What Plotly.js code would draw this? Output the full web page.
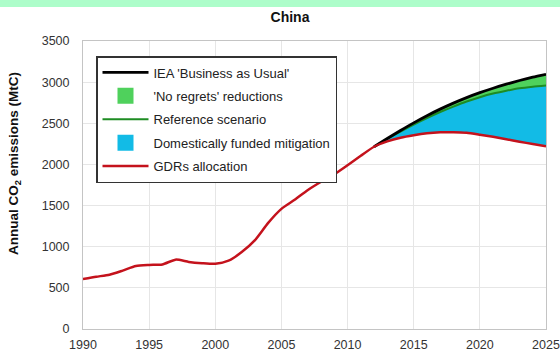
<!DOCTYPE html>
<html>
<head>
<meta charset="utf-8">
<script src="https://cdn.plot.ly/plotly-3.0.1.min.js"></script>
<style>
  html, body { margin: 0; padding: 0; background: #ffffff; }
  #chart { width: 560px; height: 356px; }
</style>
</head>
<body>
<div id="chart"></div>
<script>
// Historical emissions, 1990-2012 (MtC)
const histYears = [1990, 1991, 1992, 1993, 1994, 1995, 1996, 1997, 1998, 1999, 2000, 2001,
                   2002, 2003, 2004, 2005, 2006, 2007, 2008, 2009, 2010, 2011, 2012];
const histEmissions = [606, 635, 660, 710, 765, 778, 785, 843, 815, 800, 793, 830,
                       935, 1080, 1290, 1460, 1570, 1690, 1790, 1880, 1990, 2105, 2215];

// Projections, 2012-2025 (MtC)
const projYears = [2012, 2013, 2014, 2015, 2016, 2017, 2018, 2019, 2020, 2021, 2022, 2023, 2024, 2025];
const bau       = [2215, 2315, 2412, 2505, 2592, 2672, 2745, 2812, 2872, 2926, 2975, 3020, 3060, 3095];
const reference = [2215, 2310, 2400, 2485, 2564, 2637, 2703, 2764, 2817, 2861, 2895, 2925, 2945, 2960];
const gdrs      = [2215, 2280, 2325, 2355, 2378, 2390, 2392, 2385, 2362, 2336, 2306, 2276, 2248, 2220];

// Legend labels
const labels = ["IEA 'Business as Usual'", "'No regrets' reductions", "Reference scenario",
                "Domestically funded mitigation", "GDRs allocation"];

const colors = {
  bau: '#000000',
  noRegrets: '#4fd15c',
  reference: '#1e8c23',
  domestic: '#12bbe6',
  gdrs: '#c4121c'
};

const gdrFull = {
  x: histYears.concat(projYears.slice(1)),
  y: histEmissions.concat(gdrs.slice(1))
};

const smooth = { shape: 'spline', smoothing: 0.6 };

const traces = [
  // base of the mitigation band
  { x: projYears, y: gdrs, mode: 'lines', line: Object.assign({ width: 0 }, smooth),
    showlegend: false, hoverinfo: 'skip' },
  // domestically funded mitigation: GDRs -> reference
  { x: projYears, y: reference, mode: 'lines', line: Object.assign({ width: 0 }, smooth),
    fill: 'tonexty', fillcolor: colors.domestic, showlegend: false, hoverinfo: 'skip' },
  // no-regrets reductions: reference -> BAU
  { x: projYears, y: bau, mode: 'lines', line: Object.assign({ width: 0 }, smooth),
    fill: 'tonexty', fillcolor: colors.noRegrets, showlegend: false, hoverinfo: 'skip' },
  // lines
  { x: projYears, y: reference, mode: 'lines', name: labels[2], legendrank: 3, legendgroup: 'c',
    line: Object.assign({ width: 2, color: colors.reference }, smooth) },
  { x: projYears, y: bau, mode: 'lines', name: labels[0], legendrank: 1, legendgroup: 'a',
    line: Object.assign({ width: 2.8, color: colors.bau }, smooth) },
  { x: gdrFull.x, y: gdrFull.y, mode: 'lines', name: labels[4], legendrank: 5, legendgroup: 'e',
    line: Object.assign({ width: 2.5, color: colors.gdrs }, smooth) },
  // legend swatches for the filled bands
  { x: [null], y: [null], mode: 'markers', name: labels[1], legendrank: 2, legendgroup: 'b',
    marker: { symbol: 'square', size: 16, color: colors.noRegrets } },
  { x: [null], y: [null], mode: 'markers', name: labels[3], legendrank: 4, legendgroup: 'd',
    marker: { symbol: 'square', size: 16, color: colors.domestic } }
];

const font = { family: 'Liberation Sans, Arial, sans-serif', color: '#333333' };

const layout = {
  width: 560,
  height: 356,
  margin: { l: 83, r: 14, t: 41, b: 27 },
  paper_bgcolor: '#ffffff',
  plot_bgcolor: '#ffffff',
  font: Object.assign({ size: 12.5 }, font),
  title: {
    text: '<b>China</b>',
    font: { family: font.family, size: 14, color: '#111111' },
    x: 290 / 560, xref: 'container', xanchor: 'center',
    y: 1 - 17 / 356, yref: 'container', yanchor: 'middle'
  },
  xaxis: {
    range: [1990, 2025],
    dtick: 5,
    tick0: 1990,
    showgrid: true,
    gridcolor: '#e6e6e6',
    gridwidth: 1,
    showline: true,
    mirror: true,
    linecolor: '#c4c4c4',
    linewidth: 1,
    zeroline: false,
    ticks: '',
    ticklabelstandoff: 4,
    tickfont: { size: 12.5, color: '#333333', family: font.family }
  },
  yaxis: {
    range: [0, 3500],
    dtick: 500,
    showgrid: true,
    gridcolor: '#e6e6e6',
    gridwidth: 1,
    showline: true,
    mirror: true,
    linecolor: '#c4c4c4',
    linewidth: 1,
    zeroline: false,
    ticks: '',
    ticklabelstandoff: 10,
    tickfont: { size: 12.5, color: '#333333', family: font.family }
  },
  legend: {
    x: (96 - 83) / 463,
    y: 1 - (56 - 41) / 288,
    xanchor: 'left',
    yanchor: 'top',
    bgcolor: '#ffffff',
    bordercolor: '#333333',
    borderwidth: 1.5,
    traceorder: 'grouped',
    tracegroupgap: 3.5,
    itemwidth: 46,
    font: { size: 13, color: '#222222', family: font.family }
  },
  annotations: [
    {
      text: '<b>Annual CO<sub>2</sub> emissions (MtC)</b>',
      xref: 'paper', yref: 'paper',
      x: (15 - 83) / 463, y: 1 - (164 - 41) / 288,
      xanchor: 'center', yanchor: 'middle',
      textangle: -90,
      showarrow: false,
      font: { size: 13.5, color: '#111111', family: font.family }
    }
  ],
  shapes: [
    {
      type: 'rect', xref: 'paper', yref: 'paper',
      x0: -83 / 463, x1: 1 + 14 / 463,
      y0: 1 + 34 / 288, y1: 1 + 41 / 288,
      fillcolor: '#adfdca', line: { width: 0 }, layer: 'below'
    }
  ],
  showlegend: true
};

Plotly.newPlot('chart', traces, layout, { staticPlot: true, displayModeBar: false });
</script>
</body>
</html>
